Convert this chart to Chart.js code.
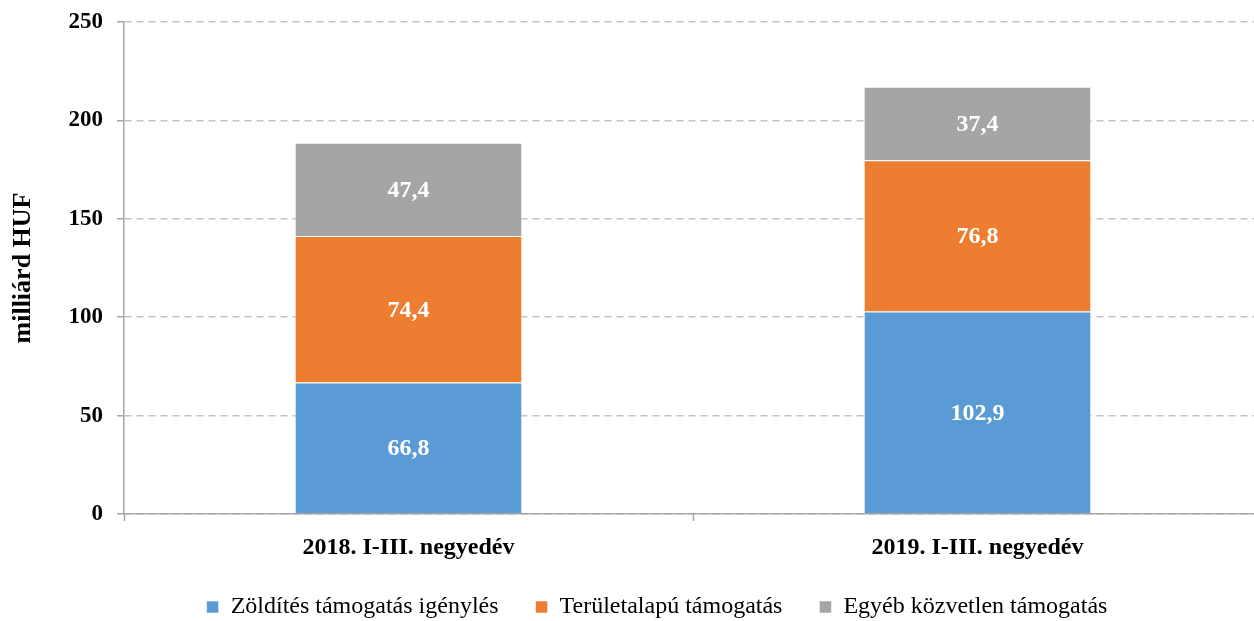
<!DOCTYPE html>
<html>
<head>
<meta charset="utf-8">
<script src="https://cdn.jsdelivr.net/npm/chart.js@4.4.1/dist/chart.umd.min.js"></script>
<style>
html,body{margin:0;padding:0;background:#fff;overflow:hidden;width:1254px;height:621px;}
#wrap{position:absolute;left:0;top:0;width:1270px;height:621px;}
</style>
</head>
<body>
<div id="wrap"><canvas id="c" width="1270" height="621"></canvas></div>
<script>
const categories = ['2018. I-III. negyedév', '2019. I-III. negyedév'];
const seriesNames = ['Zöldítés támogatás igénylés', 'Területalapú támogatás', 'Egyéb közvetlen támogatás'];
const zolditesValues = [66.8, 102.9];
const teruletalapuValues = [74.4, 76.8];
const egyebValues = [47.4, 37.4];
const yTicks = [0, 50, 100, 150, 200, 250];

const colors = ['#5B9BD5', '#ED7D31', '#A5A5A5'];
const serif = "'Liberation Serif', 'Times New Roman', serif";

const labelPlugin = {
  id: 'segLabels',
  afterDatasetsDraw(chart) {
    const ctx = chart.ctx;
    ctx.save();
    ctx.font = 'bold 24px ' + serif;
    ctx.fillStyle = '#ffffff';
    ctx.textAlign = 'center';
    ctx.textBaseline = 'middle';
    chart.data.datasets.forEach((ds, i) => {
      const meta = chart.getDatasetMeta(i);
      meta.data.forEach((el, j) => {
        const p = el.getProps(['x', 'y', 'base'], true);
        const v = ds.data[j];
        ctx.fillText(v.toFixed(1).replace('.', ','), p.x, (p.y + p.base) / 2 + 1);
      });
    });
    ctx.restore();
  }
};

const legendShift = {
  id: 'legendShift',
  afterLayout(chart) {
    const lg = chart.legend;
    if (!lg) return;
    lg.left += 26; lg.right += 26;
    lg.top -= 16; lg.bottom -= 16;
  }
};

new Chart(document.getElementById('c'), {
  type: 'bar',
  data: {
    labels: categories,
    datasets: [
      { label: seriesNames[0], data: zolditesValues, backgroundColor: colors[0] },
      { label: seriesNames[1], data: teruletalapuValues, backgroundColor: colors[1] },
      { label: seriesNames[2], data: egyebValues, backgroundColor: colors[2] }
    ].map(d => Object.assign(d, { borderColor: 'rgba(255,255,255,0.5)', borderWidth: 1, categoryPercentage: 0.8, barPercentage: 0.5 }))
  },
  options: {
    responsive: false,
    animation: false,
    devicePixelRatio: 1,
    layout: { padding: { left: 0, right: 8, top: 22, bottom: -24 } },
    plugins: {
      legend: {
        position: 'bottom',
        labels: {
          font: { family: serif, size: 24 },
          color: '#000',
          boxWidth: 12,
          boxHeight: 12,
          padding: 37
        }
      },
      tooltip: { enabled: false }
    },
    scales: {
      x: {
        stacked: true,
        grid: { display: true, drawOnChartArea: false, drawTicks: true, tickLength: 7, tickColor: '#A6A6A6', tickWidth: 1.5, offset: true },
        border: { display: true, color: '#A6A6A6', width: 1.5 },
        ticks: { font: { family: serif, size: 24, weight: 'bold' }, color: '#000', padding: 12 },
        afterFit(s) { s.height = 60; }
      },
      y: {
        stacked: true,
        min: 0, max: 250,
        afterBuildTicks(s) { s.ticks = yTicks.map(v => ({ value: v })); },
        grid: { color: '#C4C4C4', lineWidth: 1.5, drawTicks: true, tickLength: 7, tickColor: '#A6A6A6', tickWidth: 1.5, tickBorderDash: [0, 0] },
        border: { display: true, color: '#A6A6A6', width: 1.5, dash: [7, 5] },
        ticks: { font: { family: serif, size: 23, weight: 'bold' }, color: '#000', padding: 14 },
        title: { display: true, text: 'milliárd HUF', font: { family: serif, size: 26, weight: 'bold' }, color: '#000', padding: { top: 8, bottom: 0 } },
        afterFit(s) { s.width = 124; s.paddingTop = 0; s.paddingBottom = 0; }
      }
    }
  },
  plugins: [labelPlugin, legendShift]
});
</script>
</body>
</html>
